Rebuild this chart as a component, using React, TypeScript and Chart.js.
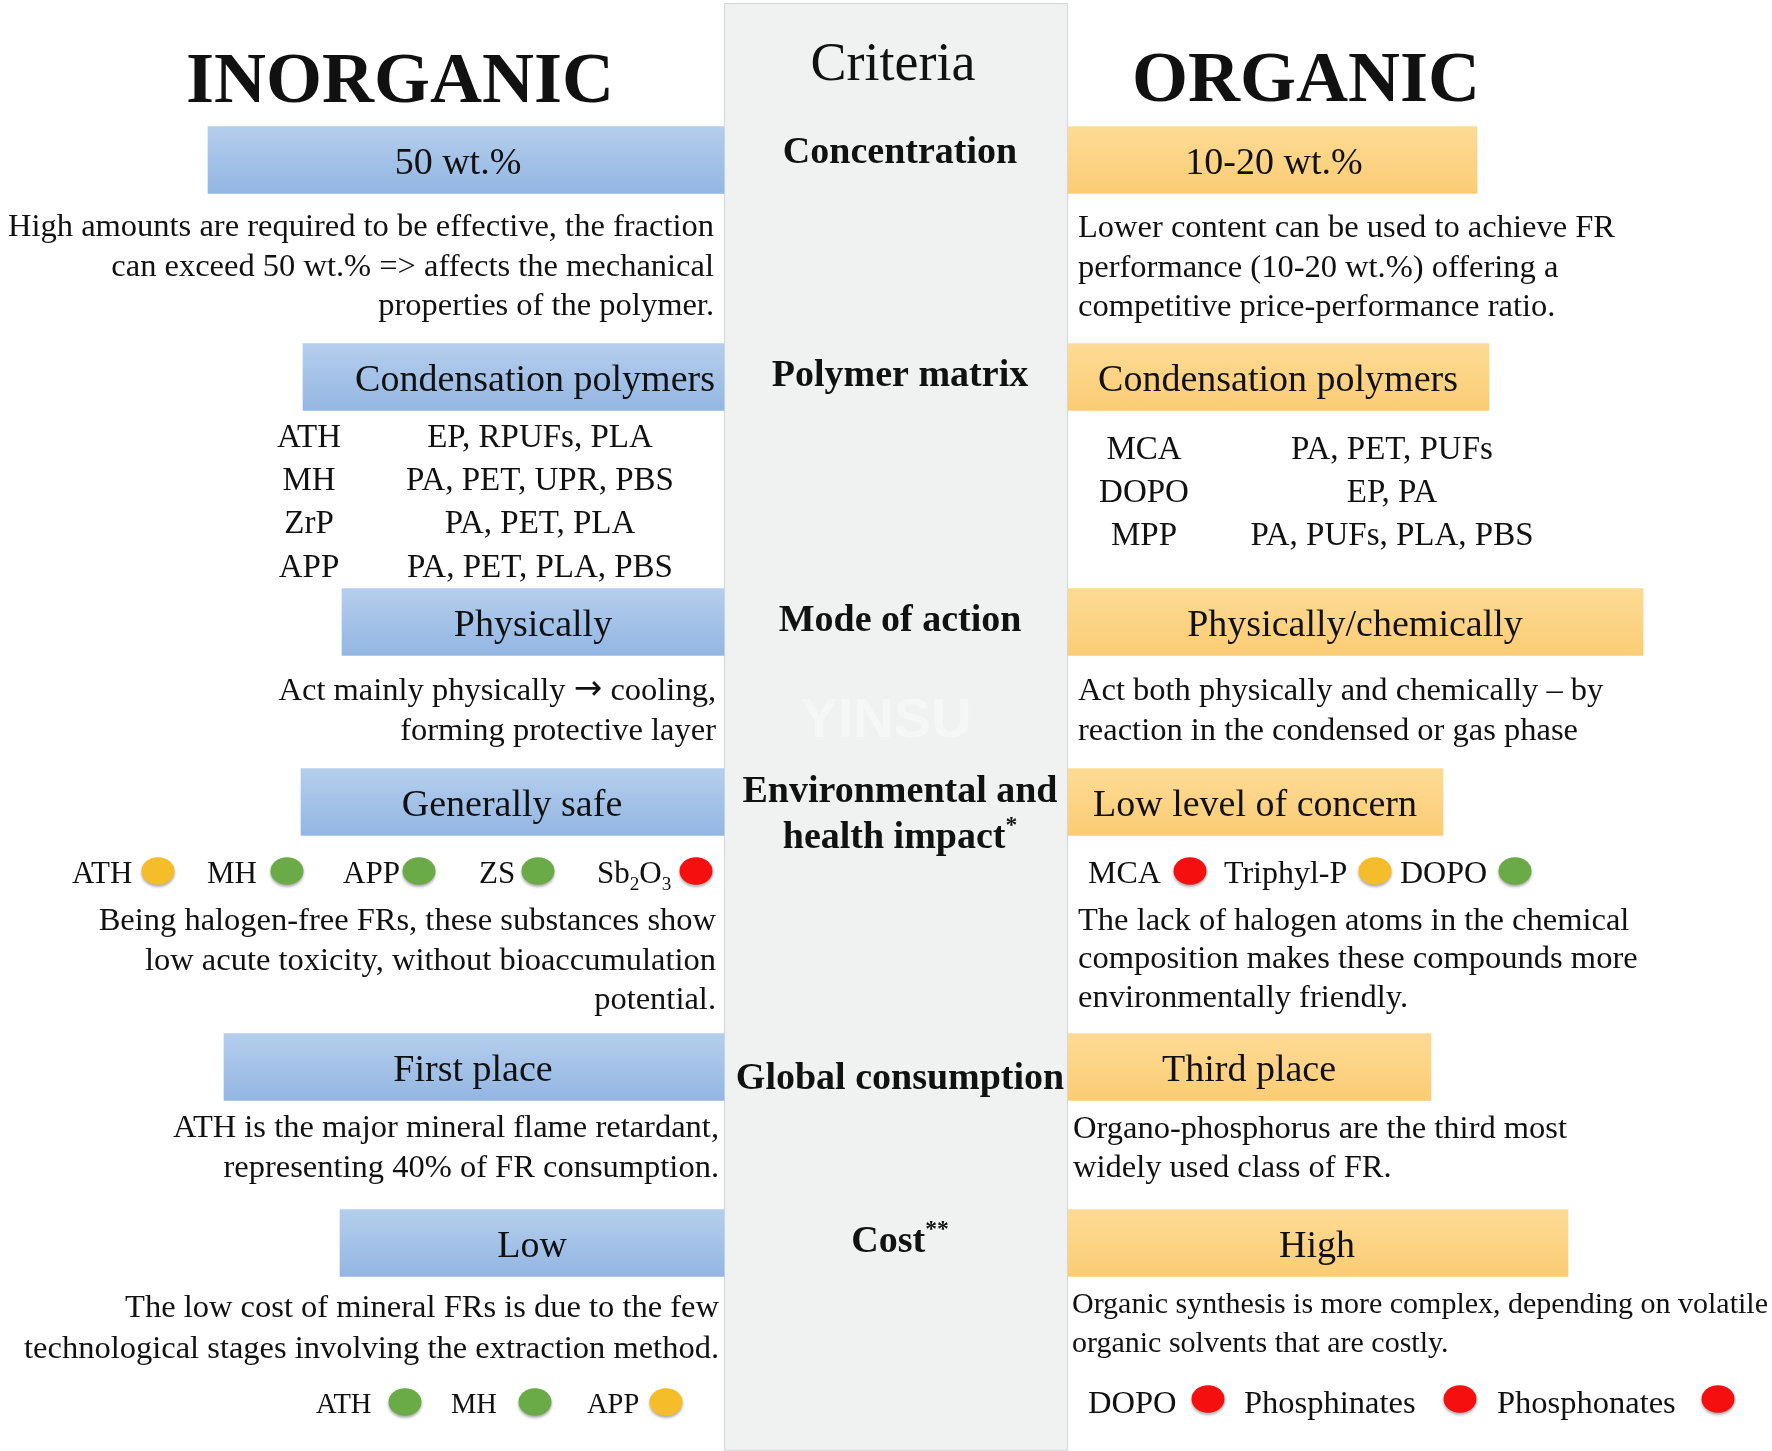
import React, { useEffect, useRef } from "react";
import { Chart, registerables } from "chart.js";

Chart.register(...registerables);

// ---------------- DATA ----------------
const sideTitles = ["INORGANIC", "ORGANIC"];
const criteriaTitle = "Criteria";
const criteria: string[][] = [
  ["Concentration"],
  ["Polymer matrix"],
  ["Mode of action"],
  ["Environmental and", "health impact*"],
  ["Global consumption"],
  ["Cost**"],
];
const inorganicRatings = ["50 wt.%", "Condensation polymers", "Physically", "Generally safe", "First place", "Low"];
const organicRatings = ["10-20 wt.%", "Condensation polymers", "Physically/chemically", "Low level of concern", "Third place", "High"];

const inorganicNotes: string[][] = [
  ["High amounts are required to be effective, the fraction", "can exceed 50 wt.% => affects the mechanical", "properties of the polymer."],
  ["Act mainly physically \u2192 cooling,", "forming protective layer"],
  ["Being halogen-free FRs, these substances show", "low acute toxicity, without bioaccumulation", "potential."],
  ["ATH is the major mineral flame retardant,", "representing 40% of FR consumption."],
  ["The low cost of mineral FRs is due to the few", "technological stages involving the extraction method."],
];
const organicNotes: string[][] = [
  ["Lower content can be used to achieve FR", "performance (10-20 wt.%) offering a", "competitive price-performance ratio."],
  ["Act both physically and chemically \u2013 by", "reaction in the condensed or gas phase"],
  ["The lack of halogen atoms in the chemical", "composition makes these compounds more", "environmentally friendly."],
  ["Organo-phosphorus are the third most", "widely used class of FR."],
  ["Organic synthesis is more complex, depending on volatile", "organic solvents that are costly."],
];

const inorganicFR = ["ATH", "MH", "ZrP", "APP"];
const inorganicPolymers = ["EP, RPUFs, PLA", "PA, PET, UPR, PBS", "PA, PET, PLA", "PA, PET, PLA, PBS"];
const organicFR = ["MCA", "DOPO", "MPP"];
const organicPolymers = ["PA, PET, PUFs", "EP, PA", "PA, PUFs, PLA, PBS"];

const envInorganic = ["ATH", "MH", "APP", "ZS", "Sb2O3"];
const envInorganicLevel = ["medium", "low", "low", "low", "high"];
const envOrganic = ["MCA", "Triphyl-P", "DOPO"];
const envOrganicLevel = ["high", "medium", "low"];
const costInorganic = ["ATH", "MH", "APP"];
const costInorganicLevel = ["low", "low", "medium"];
const costOrganic = ["DOPO", "Phosphinates", "Phosphonates"];
const costOrganicLevel = ["high", "high", "high"];

const watermark = "YINSU";

// ---------------- LAYOUT (picture units, 1772 x 1451) ----------------
const W = 1772;
const H = 1451;
const panelX = [724, 1068];
const panelY = [3, 1451];
const rowY = [160, 377, 622, 802, 1067, 1243];
const inorganicBarStart = [208, 303, 342, 301, 224, 340];
const organicBarEnd = [1477, 1489, 1643, 1443, 1431, 1568];
const barThick = 67;
const inorganicLabelX = [458, 535, 533, 512, 473, 532];
const organicLabelX = [1274, 1278, 1355, 1255, 1249, 1317];

const titlePos = [[400, 102], [1306, 101]];
const criteriaTitlePos = [893, 80];
const criteriaX = 900;
const criteriaBaselines = [[163], [386], [631], [802, 848], [1089], [1252]];

const inorganicNoteRight = [714, 716, 716, 719, 719];
const inorganicNoteY = [[236, 276, 315], [700, 740], [930, 970, 1009], [1137, 1177], [1317, 1358]];
const organicNoteLeft = [1078, 1078, 1078, 1073, 1072];
const organicNoteY = [[237, 277, 316], [700, 740], [930, 968, 1007], [1138, 1177], [1313, 1352]];
const organicNoteSize = [32.5, 32.5, 32.5, 32.5, 30];

const inorgTableX = [309, 540];
const inorgTableY = [447, 490, 533, 577];
const orgTableX = [1144, 1392];
const orgTableY = [459, 502, 545];

const envInorgLabelX = [72, 207, 343, 479, 597];
const envInorgDotX = [158, 287, 419, 538, 696];
const envOrgLabelX = [1088, 1224, 1400];
const envOrgDotX = [1190, 1375, 1515];
const envDotY = 872;
const envLabelY = 883;
const costInorgLabelX = [316, 451, 587];
const costInorgDotX = [405, 535, 666];
const costInorgDotY = 1403;
const costOrgLabelX = [1088, 1244, 1497];
const costOrgDotX = [1208, 1460, 1718];
const costOrgDotY = 1400;
const costLabelY = 1413;

// ---------------- STYLE ----------------
const SERIF = '"Liberation Serif", "Times New Roman", Times, serif';
const SYMBOL = '"DejaVu Sans", sans-serif';
const TEXT = "#111111";
const BLUE = ["#b5ceed", "#93b6e2"];
const ORANGE = ["#fddb95", "#fbcc74"];
const LEVEL_COLOR: Record<string, string> = { low: "#6aab48", medium: "#f5bd2a", high: "#f50f0f" };

type Kind = "n" | "sub" | "sup" | "sym";
type Seg = { t: string; k: Kind };

function segFont(k: Kind, size: number, bold: boolean) {
  if (k === "sym") return `${size * 1.05}px ${SYMBOL}`;
  const s = k === "n" ? size : size * 0.62;
  return `${bold ? "bold " : ""}${s}px ${SERIF}`;
}

function parseRich(text: string, chem: boolean): Seg[] {
  const segs: Seg[] = [];
  let body = text;
  let stars = "";
  const m = text.match(/(\*+)$/);
  if (m) {
    stars = m[1];
    body = text.slice(0, -stars.length);
  }
  body.split(/(\u2192)/).filter((p) => p.length).forEach((part) => {
    if (part === "\u2192") {
      segs.push({ t: part, k: "sym" });
    } else if (chem) {
      part.split(/(\d+)/).filter((p) => p.length).forEach((p) => segs.push({ t: p, k: /^\d+$/.test(p) ? "sub" : "n" }));
    } else {
      segs.push({ t: part, k: "n" });
    }
  });
  if (stars) segs.push({ t: stars, k: "sup" });
  return segs;
}

function drawRich(
  ctx: CanvasRenderingContext2D,
  text: string,
  x: number,
  y: number,
  size: number,
  bold: boolean,
  align: "left" | "center" | "right",
  chem = false
) {
  const segs = parseRich(text, chem);
  const widths = segs.map((s) => {
    ctx.font = segFont(s.k, size, bold);
    return ctx.measureText(s.t).width;
  });
  const total = widths.reduce((a, b) => a + b, 0);
  let cx = align === "left" ? x : align === "center" ? x - total / 2 : x - total;
  ctx.textAlign = "left";
  ctx.textBaseline = "alphabetic";
  segs.forEach((s, i) => {
    ctx.font = segFont(s.k, size, bold);
    const dy = s.k === "sub" ? size * 0.22 : s.k === "sup" ? -size * 0.42 : s.k === "sym" ? -size * 0.02 : 0;
    ctx.fillText(s.t, cx, y + dy);
    cx += widths[i];
  });
}

function makeDot(color: string) {
  const c = document.createElement("canvas");
  c.width = 42;
  c.height = 38;
  const g = c.getContext("2d")!;
  g.shadowColor = "rgba(0,0,0,0.35)";
  g.shadowBlur = 3;
  g.shadowOffsetY = 2;
  g.fillStyle = color;
  g.beginPath();
  g.ellipse(21, 18, 16.5, 13.8, 0, 0, Math.PI * 2);
  g.fill();
  return c;
}

function gradientFill(colors: string[]) {
  return (c: any) => {
    const chart = c.chart;
    const ys = chart.scales?.y;
    const raw = c.raw;
    if (!ys || !raw) return colors[1];
    const yc = ys.getPixelForValue(raw.y);
    if (!Number.isFinite(yc)) return colors[1];
    const g = chart.ctx.createLinearGradient(0, yc - barThick / 2, 0, yc + barThick / 2);
    g.addColorStop(0, colors[0]);
    g.addColorStop(1, colors[1]);
    return g;
  };
}

const textPlugin = {
  id: "infoText",
  afterDatasetsDraw(chart: any) {
    const { ctx } = chart;
    const xs = chart.scales.x;
    const ys = chart.scales.y;
    const X = (v: number) => xs.getPixelForValue(v);
    const Y = (v: number) => ys.getPixelForValue(v);
    ctx.save();

    // watermark
    ctx.fillStyle = "rgba(255,255,255,0.35)";
    ctx.font = `bold 56px "Liberation Sans", Arial, sans-serif`;
    ctx.textAlign = "center";
    ctx.fillText(watermark, X(886), Y(737));

    ctx.fillStyle = TEXT;
    // titles
    sideTitles.forEach((t, i) => drawRich(ctx, t, X(titlePos[i][0]), Y(titlePos[i][1]), 72, true, "center"));
    drawRich(ctx, criteriaTitle, X(criteriaTitlePos[0]), Y(criteriaTitlePos[1]), 54, false, "center");

    // criteria
    criteria.forEach((lines, i) =>
      lines.forEach((l, j) => drawRich(ctx, l, X(criteriaX), Y(criteriaBaselines[i][j]), 38, true, "center"))
    );

    // box labels
    inorganicRatings.forEach((t, i) => drawRich(ctx, t, X(inorganicLabelX[i]), Y(rowY[i] + 14), 38, false, "center"));
    organicRatings.forEach((t, i) => drawRich(ctx, t, X(organicLabelX[i]), Y(rowY[i] + 14), 38, false, "center"));

    // notes
    inorganicNotes.forEach((lines, i) =>
      lines.forEach((l, j) => drawRich(ctx, l, X(inorganicNoteRight[i]), Y(inorganicNoteY[i][j]), 32.5, false, "right"))
    );
    organicNotes.forEach((lines, i) =>
      lines.forEach((l, j) => drawRich(ctx, l, X(organicNoteLeft[i]), Y(organicNoteY[i][j]), organicNoteSize[i], false, "left"))
    );

    // tables
    inorganicFR.forEach((t, i) => {
      drawRich(ctx, t, X(inorgTableX[0]), Y(inorgTableY[i]), 33, false, "center");
      drawRich(ctx, inorganicPolymers[i], X(inorgTableX[1]), Y(inorgTableY[i]), 33, false, "center");
    });
    organicFR.forEach((t, i) => {
      drawRich(ctx, t, X(orgTableX[0]), Y(orgTableY[i]), 33, false, "center");
      drawRich(ctx, organicPolymers[i], X(orgTableX[1]), Y(orgTableY[i]), 33, false, "center");
    });

    // dot labels
    envInorganic.forEach((t, i) => drawRich(ctx, t, X(envInorgLabelX[i]), Y(envLabelY), 31, false, "left", true));
    envOrganic.forEach((t, i) => drawRich(ctx, t, X(envOrgLabelX[i]), Y(envLabelY), 32, false, "left"));
    costInorganic.forEach((t, i) => drawRich(ctx, t, X(costInorgLabelX[i]), Y(costLabelY), 28.5, false, "left"));
    costOrganic.forEach((t, i) => drawRich(ctx, t, X(costOrgLabelX[i]), Y(costLabelY), 32.5, false, "left"));

    ctx.restore();
  },
};

export default function App() {
  const ref = useRef<HTMLCanvasElement>(null);

  useEffect(() => {
    document.body.style.margin = "0";
    const canvas = ref.current;
    if (!canvas) return;
    const dots: Record<string, HTMLCanvasElement> = {
      low: makeDot(LEVEL_COLOR.low),
      medium: makeDot(LEVEL_COLOR.medium),
      high: makeDot(LEVEL_COLOR.high),
    };

    const dotSet = (label: string, xsPos: number[], y: number, levels: string[]) => ({
      type: "scatter" as const,
      label,
      data: xsPos.map((x) => ({ x, y })),
      pointStyle: (c: any) => dots[levels[c.dataIndex]] || "circle",
      pointRadius: 16,
      pointHoverRadius: 16,
      backgroundColor: levels.map((l) => LEVEL_COLOR[l]),
      borderWidth: 0,
      clip: false,
      order: 1,
    });

    const chart = new Chart(canvas, {
      type: "scatter",
      data: {
        datasets: [
          {
            type: "bar",
            label: "criteria panel",
            indexAxis: "y",
            grouped: false,
            data: [{ x: [panelX[0], panelX[1]], y: (panelY[0] + panelY[1]) / 2 }],
            barThickness: panelY[1] - panelY[0],
            backgroundColor: "#f0f2f2",
            borderColor: "#d6dbdb",
            borderWidth: 1.5,
            borderSkipped: false,
            order: 10,
          } as any,
          {
            type: "bar",
            label: "INORGANIC",
            indexAxis: "y",
            grouped: false,
            data: inorganicRatings.map((_, i) => ({ x: [inorganicBarStart[i], panelX[0]], y: rowY[i] })),
            barThickness: barThick,
            backgroundColor: gradientFill(BLUE),
            borderWidth: 0,
            order: 5,
          } as any,
          {
            type: "bar",
            label: "ORGANIC",
            indexAxis: "y",
            grouped: false,
            data: organicRatings.map((_, i) => ({ x: [panelX[1], organicBarEnd[i]], y: rowY[i] })),
            barThickness: barThick,
            backgroundColor: gradientFill(ORANGE),
            borderWidth: 0,
            order: 5,
          } as any,
          dotSet("env inorganic", envInorgDotX, envDotY, envInorganicLevel),
          dotSet("env organic", envOrgDotX, envDotY, envOrganicLevel),
          dotSet("cost inorganic", costInorgDotX, costInorgDotY, costInorganicLevel),
          dotSet("cost organic", costOrgDotX, costOrgDotY, costOrganicLevel),
        ],
      },
      options: {
        responsive: false,
        maintainAspectRatio: false,
        animation: false,
        devicePixelRatio: 1,
        events: [],
        layout: { padding: 0, autoPadding: false },
        scales: {
          x: { type: "linear", min: 0, max: W, display: false, offset: false, grace: 0 },
          y: { type: "linear", min: 0, max: H, reverse: true, display: false, offset: false, grace: 0 },
        },
        plugins: {
          legend: { display: false },
          tooltip: { enabled: false },
          title: { display: false },
        },
      } as any,
      plugins: [textPlugin],
    });
    return () => chart.destroy();
  }, []);

  return <canvas ref={ref} width={W} height={H} style={{ display: "block", width: W, height: H }} />;
}
